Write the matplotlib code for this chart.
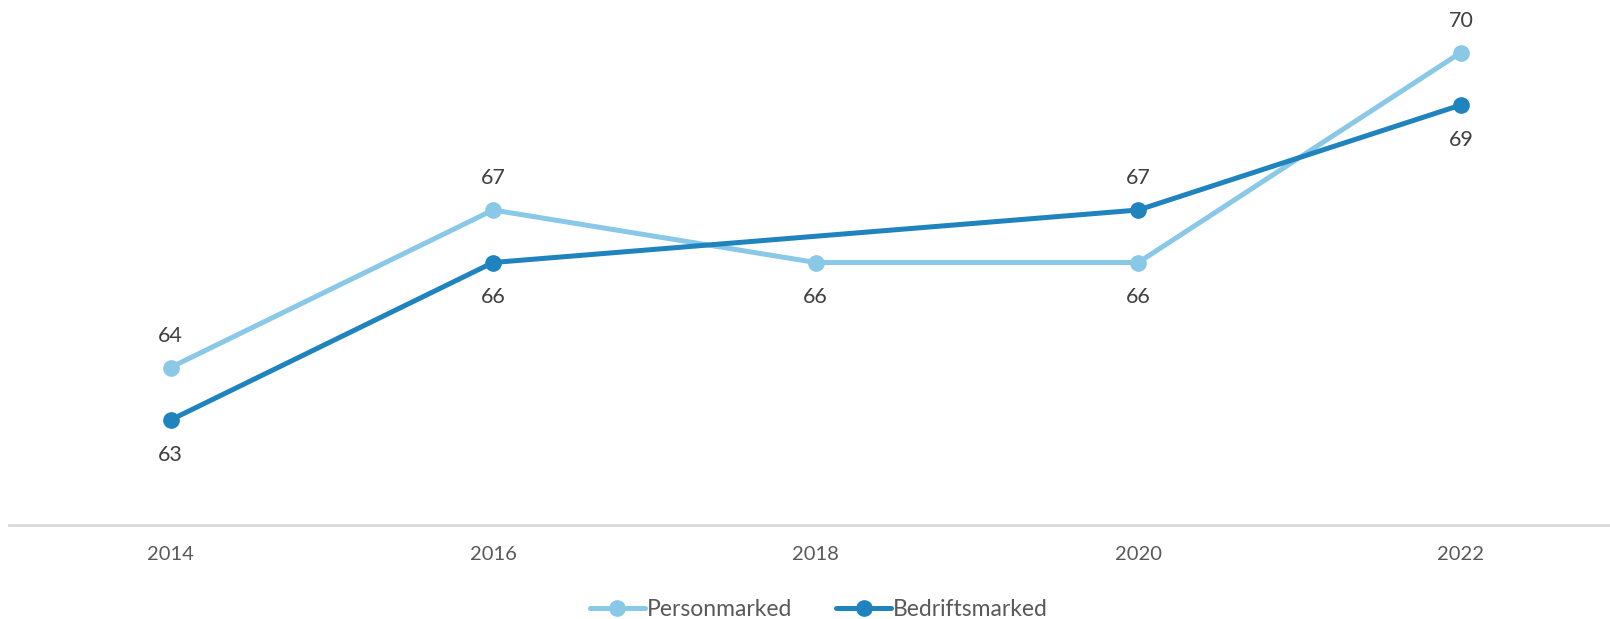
import matplotlib.pyplot as plt
import numpy as np

# data
years = ["2014", "2016", "2018", "2020", "2022"]
personmarked = [64, 67, 66, 66, 70]
bedriftsmarked = [63, 66, None, 67, 69]  # no value for 2018

# label placement: True = above the point
person_above = [True, True, False, False, True]
bedrift_above = [False, False, None, True, False]

light = "#89C8E6"
dark = "#1F83BE"
txt = "#404040"

plt.rcParams["font.family"] = ["Lato", "DejaVu Sans"]

fig = plt.figure(figsize=(16.1, 6.19), dpi=100)
ax = fig.add_axes([9 / 1610, 1 - 525 / 619, (1610 - 9) / 1610, 525 / 619])

x = np.arange(len(years))

def draw(vals, above, color, name):
    pts = [(xi, v, a) for xi, v, a in zip(x, vals, above) if v is not None]
    xs = [p[0] for p in pts]
    ys = [p[1] for p in pts]
    ax.plot(xs, ys, color=color, lw=3.6, marker="o", ms=11,
            solid_capstyle="round", label=name, zorder=3)
    for xi, v, a in pts:
        off = 23 if a else -25
        ax.annotate(str(v), (xi, v), xytext=(0, off), textcoords="offset points",
                    ha="center", va="center", fontsize=15.5, color=txt)

draw(personmarked, person_above, light, "Personmarked")
draw(bedriftsmarked, bedrift_above, dark, "Bedriftsmarked")

ax.set_xlim(-0.5006, 4.462)
ax.set_ylim(61, 71)

for s in ["top", "right", "left"]:
    ax.spines[s].set_visible(False)
ax.spines["bottom"].set_color("#D9D9D9")
ax.spines["bottom"].set_linewidth(2)
ax.set_yticks([])
ax.set_xticks(x)
ax.set_xticklabels(years)
ax.tick_params(axis="x", length=0, pad=15, labelsize=14.5, labelcolor="#595959")

fig.legend(loc="center", bbox_to_anchor=(819 / 1610, 1 - 610 / 619), ncol=2,
           frameon=False, fontsize=16.5, handlelength=2.4, handletextpad=0.1,
           columnspacing=1.9, labelcolor="#595959")

fig.savefig("out.png", dpi=100)
